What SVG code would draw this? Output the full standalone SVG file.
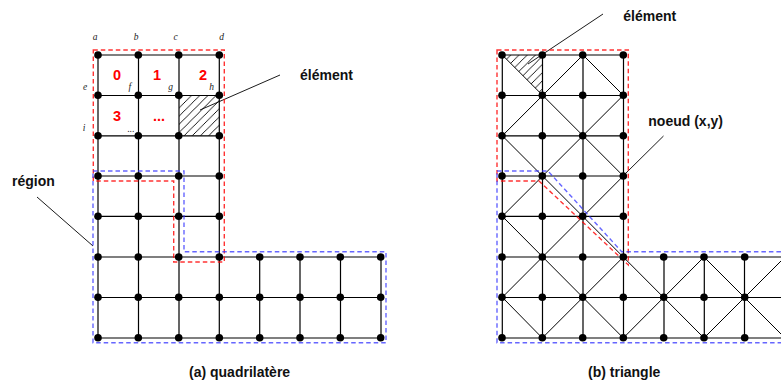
<svg xmlns="http://www.w3.org/2000/svg" width="781" height="382" viewBox="0 0 781 382">
<style>
.mesh{fill:none;stroke:#000;stroke-width:1.2}
.diag{fill:none;stroke:#000;stroke-width:1}
.lead{fill:none;stroke:#000;stroke-width:.9}
.red{fill:none;stroke:#f00;stroke-width:1.4;stroke-dasharray:4.5 3;opacity:.8}
.blue{fill:none;stroke:#33f;stroke-width:1.4;stroke-dasharray:4.5 3;opacity:.75}
.node{fill:#000}
text{font-family:"Liberation Sans",Arial,sans-serif}
.lbl{font-size:14px;font-weight:bold;fill:#111}
.num{font-size:14.5px;font-weight:bold;fill:#f00;text-anchor:middle}
.it{font-family:"Liberation Serif","Times New Roman",serif;font-size:9.5px;font-style:italic;fill:#222;text-anchor:middle}
</style>
<defs>
<pattern id="hatch" patternUnits="userSpaceOnUse" width="8.2" height="8.2"><path d="M-1 9.2L9.2-1M-1 1L1-1M7.2 9.2L9.2 7.2" stroke="#000" stroke-width=".9" fill="none"/></pattern>
</defs>
<g id="hatching">
<rect x="179" y="95.5" width="40.3" height="40.3" fill="url(#hatch)"/>
<path d="M502.3 55H542.5V95.5Z" fill="url(#hatch)"/>
</g>
<g id="connectors">
<path class="mesh" d="M98 55V338M138.5 55V338M179 55V338M219.3 55V338M259.7 257V338M300 257V338M340.5 257V338M381 257V338M98 55H219.3M98 95.5H219.3M98 135.8H219.3M98 176H219.3M98 216.4H219.3M98 257H381M98 297.5H381M98 338H381"/>
<path class="mesh" d="M502.3 55V338M542.5 55V338M583 55V338M623.5 55V338M664 257V338M704.3 257V338M744.5 257V338M785 257V338M502.3 55H623.5M502.3 95.5H623.5M502.3 135.8H623.5M502.3 176H623.5M502.3 216.4H623.5M502.3 257H785M502.3 297.5H785M502.3 338H785"/>
<path class="diag" d="M502.3 55L623.3 176M583 55L502.3 135.8M583 55L623.3 95.3M623.3 95.3L502.3 216.3M502.3 135.8L623.3 257M623.3 176L502.3 297.3M502.3 216.3L623.3 338M623.3 257L542.3 338M502.3 297.3L542.3 338M623.3 257L704 338M704 257L623.3 338M704 257L785 338M785 257L704 338"/>
<path class="lead" d="M280 75L200 110M603 14L528 64M663.5 136L625 174M37 197L93 246"/>
<path class="red" d="M93.3 50H224.3V262H173.7V181H93.3Z"/>
<path class="blue" d="M93 171H184V251.7H386V342.7H93Z"/>
<path class="red" d="M497 50H628.3V265L539 181H497Z"/>
<path class="blue" d="M497 171H548L621.7 251.7H790V342.7H497Z"/>
</g>
<g id="quad-nodes" class="node">
<g id="q0"><circle cx="98" cy="55" r="3.8"/><circle cx="138.3" cy="55" r="3.8"/><circle cx="178.7" cy="55" r="3.8"/><circle cx="219.3" cy="55" r="3.8"/></g>
<g id="q1"><circle cx="98" cy="95.3" r="3.8"/><circle cx="138.3" cy="95.3" r="3.8"/><circle cx="178.7" cy="95.3" r="3.8"/><circle cx="219.3" cy="95.3" r="3.8"/></g>
<g id="q2"><circle cx="98" cy="135.7" r="3.8"/><circle cx="138.3" cy="135.7" r="3.8"/><circle cx="178.7" cy="135.7" r="3.8"/><circle cx="219.3" cy="135.7" r="3.8"/></g>
<g id="q3"><circle cx="98" cy="176" r="3.8"/><circle cx="138.3" cy="176" r="3.8"/><circle cx="178.7" cy="176" r="3.8"/><circle cx="219.3" cy="176" r="3.8"/></g>
<g id="q4"><circle cx="98" cy="216.3" r="3.8"/><circle cx="138.3" cy="216.3" r="3.8"/><circle cx="178.7" cy="216.3" r="3.8"/><circle cx="219.3" cy="216.3" r="3.8"/></g>
<g id="q5"><circle cx="98" cy="257" r="3.8"/><circle cx="138.3" cy="257" r="3.8"/><circle cx="178.7" cy="257" r="3.8"/><circle cx="219.3" cy="257" r="3.8"/><circle cx="259.7" cy="257" r="3.8"/><circle cx="300" cy="257" r="3.8"/><circle cx="340.3" cy="257" r="3.8"/><circle cx="380.7" cy="257" r="3.8"/></g>
<g id="q6"><circle cx="98" cy="297.3" r="3.8"/><circle cx="138.3" cy="297.3" r="3.8"/><circle cx="178.7" cy="297.3" r="3.8"/><circle cx="219.3" cy="297.3" r="3.8"/><circle cx="259.7" cy="297.3" r="3.8"/><circle cx="300" cy="297.3" r="3.8"/><circle cx="340.3" cy="297.3" r="3.8"/><circle cx="380.7" cy="297.3" r="3.8"/></g>
<g id="q7"><circle cx="98" cy="337.7" r="3.8"/><circle cx="138.3" cy="337.7" r="3.8"/><circle cx="178.7" cy="337.7" r="3.8"/><circle cx="219.3" cy="337.7" r="3.8"/><circle cx="259.7" cy="337.7" r="3.8"/><circle cx="300" cy="337.7" r="3.8"/><circle cx="340.3" cy="337.7" r="3.8"/><circle cx="380.7" cy="337.7" r="3.8"/></g>
</g>
<g id="tri-nodes" class="node">
<g id="t0"><circle cx="502" cy="55" r="3.8"/><circle cx="542.3" cy="55" r="3.8"/><circle cx="582.7" cy="55" r="3.8"/><circle cx="623.3" cy="55" r="3.8"/></g>
<g id="t1"><circle cx="502" cy="95.3" r="3.8"/><circle cx="542.3" cy="95.3" r="3.8"/><circle cx="582.7" cy="95.3" r="3.8"/><circle cx="623.3" cy="95.3" r="3.8"/></g>
<g id="t2"><circle cx="502" cy="135.7" r="3.8"/><circle cx="542.3" cy="135.7" r="3.8"/><circle cx="582.7" cy="135.7" r="3.8"/><circle cx="623.3" cy="135.7" r="3.8"/></g>
<g id="t3"><circle cx="502" cy="176" r="3.8"/><circle cx="542.3" cy="176" r="3.8"/><circle cx="582.7" cy="176" r="3.8"/><circle cx="623.3" cy="176" r="3.8"/></g>
<g id="t4"><circle cx="502" cy="216.3" r="3.8"/><circle cx="542.3" cy="216.3" r="3.8"/><circle cx="582.7" cy="216.3" r="3.8"/><circle cx="623.3" cy="216.3" r="3.8"/></g>
<g id="t5"><circle cx="502" cy="257" r="3.8"/><circle cx="542.3" cy="257" r="3.8"/><circle cx="582.7" cy="257" r="3.8"/><circle cx="623.3" cy="257" r="3.8"/><circle cx="663.7" cy="257" r="3.8"/><circle cx="704" cy="257" r="3.8"/><circle cx="744.7" cy="257" r="3.8"/></g>
<g id="t6"><circle cx="502" cy="297.3" r="3.8"/><circle cx="542.3" cy="297.3" r="3.8"/><circle cx="582.7" cy="297.3" r="3.8"/><circle cx="623.3" cy="297.3" r="3.8"/><circle cx="663.7" cy="297.3" r="3.8"/><circle cx="704" cy="297.3" r="3.8"/><circle cx="744.7" cy="297.3" r="3.8"/></g>
<g id="t7"><circle cx="502" cy="337.7" r="3.8"/><circle cx="542.3" cy="337.7" r="3.8"/><circle cx="582.7" cy="337.7" r="3.8"/><circle cx="623.3" cy="337.7" r="3.8"/><circle cx="663.7" cy="337.7" r="3.8"/><circle cx="704" cy="337.7" r="3.8"/><circle cx="744.7" cy="337.7" r="3.8"/></g>
</g>
<g id="labels">
<text class="it" x="95" y="40">a</text><text class="it" x="136" y="40">b</text><text class="it" x="175.7" y="40">c</text><text class="it" x="221.7" y="40">d</text>
<text class="it" x="85" y="90">e</text><text class="it" x="129.7" y="90">f</text><text class="it" x="170.7" y="90">g</text><text class="it" x="211.7" y="90">h</text><text class="it" x="84" y="131">i</text>
<text class="it" x="131" y="132">...</text>
<text class="num" x="117" y="80">0</text><text class="num" x="157" y="80">1</text><text class="num" x="203" y="80">2</text><text class="num" x="117" y="121">3</text><text class="num" x="159" y="121">...</text>
<text class="lbl" x="300" y="80">élément</text>
<text class="lbl" x="623.3" y="21">élément</text>
<text class="lbl" x="648.3" y="126">noeud (x,y)</text>
<text class="lbl" x="12" y="186">région</text>
<text class="lbl" x="189" y="377">(a) quadrilatère</text>
<text class="lbl" x="588" y="377">(b) triangle</text>
</g>
</svg>
